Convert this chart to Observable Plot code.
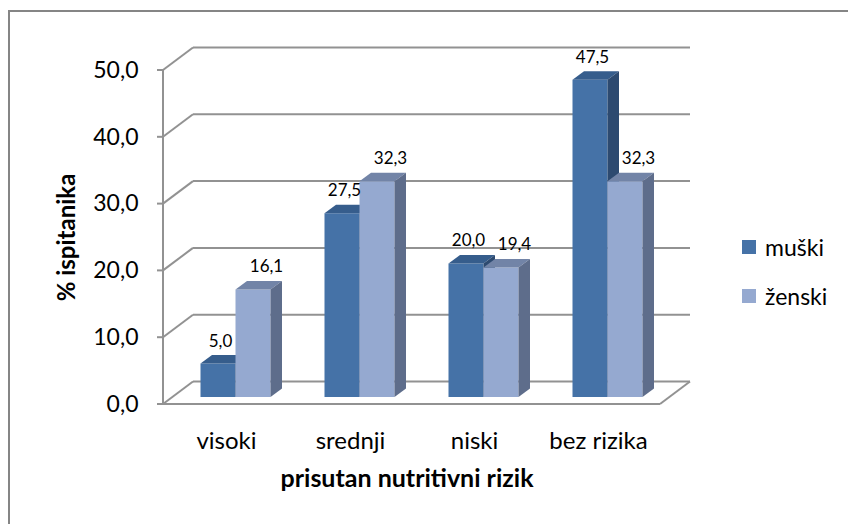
<!DOCTYPE html>
<html><head><meta charset="utf-8">
<script src="https://cdn.jsdelivr.net/npm/d3@7"></script>
<script src="https://cdn.jsdelivr.net/npm/@observablehq/plot@0.6"></script>
<style>
html,body{margin:0;padding:0;background:#fff;overflow:hidden;}
#wrap{position:relative;width:848px;height:524px;font-family:Lato,sans-serif;overflow:hidden;}
#border{position:absolute;left:8px;top:10px;width:900px;height:600px;border:2px solid #858585;box-sizing:border-box;}
#chart{position:absolute;left:0;top:0;}
#legend{position:absolute;left:742px;top:222.5px;}
.item{display:flex;align-items:center;height:49px;font-size:23px;color:#000;}
.sw{width:14px;height:14px;margin-right:9px;}
</style>
</head><body>
<div id="wrap"><div id="border"></div><div id="chart"></div><div id="legend"></div></div>
<script>
const categories = ["visoki", "srednji", "niski", "bez rizika"];
const series = ["muški", "ženski"];
const muski = [5.0, 27.5, 20.0, 47.5];
const zenski = [16.1, 32.3, 19.4, 32.3];
const yTicks = [0, 10, 20, 30, 40, 50];
const yTitle = "% ispitanika";
const xTitle = "prisutan nutritivni rizik";
const frontColors = ["#4572A7", "#95A9D0"];
const topColors = ["#365D8C", "#7284A7"];
const sideColors = ["#2D4A70", "#5E6D8B"];

const fmt = d => d.toFixed(1).replace(".", ",");
const rows = categories.flatMap((c, i) => [
  {category: c, sex: series[0], si: 0, value: muski[i]},
  {category: c, sex: series[1], si: 1, value: zenski[i]}
]);

// 3D offsets (pixels)
const WALL = [30, -22.5];   // back wall offset from front plane
const BAR = [9.5, -7];      // bar front plane offset
const DEPTH = [11.5, -8.5]; // bar depth
const GRID = "#929292";

function geometry(index, scales, values, dimensions) {
  const x = scales.x, y = scales.y;
  const bw = x.bandwidth ? x.bandwidth() : 70;
  const x0 = dimensions.marginLeft, x1 = dimensions.width - dimensions.marginRight;
  const g = d3.create("svg:g");
  const line = (ax, ay, bx, by) => g.append("line").attr("x1", ax).attr("y1", ay).attr("x2", bx).attr("y2", by)
    .attr("stroke", GRID).attr("stroke-width", 2);
  const top = y(d3.max(yTicks));
  for (const t of yTicks) {
    const ty = y(t);
    line(x0 + WALL[0], ty + WALL[1], x1 + WALL[0], ty + WALL[1]);
    line(x0, ty, x0 + WALL[0], ty + WALL[1]);
    line(x0 - 6, ty, x0, ty);
  }
  line(x0, y(0), x0, top);
  line(x0, y(0), x1, y(0));
  line(x1, y(0), x1 + WALL[0], y(0) + WALL[1]);
  const w = bw / 2;
  for (const d of rows) {
    const xs = x(d.category) + BAR[0] + d.si * w;
    const yt = y(d.value) + BAR[1];
    const yb = y(0) + BAR[1];
    const poly = (pts, fill) => g.append("polygon").attr("points", pts.map(p => p.join(",")).join(" ")).attr("fill", fill);
    poly([[xs, yt], [xs + w, yt], [xs + w, yb], [xs, yb]], frontColors[d.si]);
    poly([[xs, yt], [xs + DEPTH[0], yt + DEPTH[1]], [xs + w + DEPTH[0], yt + DEPTH[1]], [xs + w, yt]], topColors[d.si]);
    poly([[xs + w, yt], [xs + w + DEPTH[0], yt + DEPTH[1]], [xs + w + DEPTH[0], yb + DEPTH[1]], [xs + w, yb]], sideColors[d.si]);
  }
  return g.node();
}

const plot = Plot.plot({
  width: 848, height: 524,
  marginLeft: 163, marginRight: 188, marginTop: 70, marginBottom: 120,
  style: {fontFamily: "Lato, sans-serif", color: "#000", background: "transparent", overflow: "visible"},
  x: {type: "band", domain: categories, paddingInner: 0.437, paddingOuter: 0.2185},
  y: {domain: [0, 50]},
  marks: [
    geometry,
    Plot.axisY({ticks: yTicks, tickFormat: fmt, tickSize: 0, tickPadding: 25, fontSize: 23, label: null, fill: "#000"}),
    Plot.axisX({tickSize: 0, tickPadding: 27, fontSize: 24, label: null, fill: "#000"}),
    Plot.text(rows.filter(d => d.si === 0), {x: "category", y: "value", text: d => fmt(d.value), dx: -6, dy: -30, fontSize: 17, fill: "#000"}),
    Plot.text(rows.filter(d => d.si === 1), {x: "category", y: "value", text: d => fmt(d.value), dx: 40, dy: -30, fontSize: 17, fill: "#000"}),
    Plot.text([xTitle], {text: d => d, frameAnchor: "bottom", textAnchor: "middle", lineAnchor: "middle", dx: -5, dy: 74, fontSize: 25, fontWeight: "bold", fill: "#000"}),
    Plot.text([yTitle], {text: d => d, frameAnchor: "left", textAnchor: "middle", lineAnchor: "middle", dx: -96, rotate: -90, fontSize: 24, fontWeight: "bold", fill: "#000"})
  ]
});
document.getElementById("chart").appendChild(plot);

const legend = document.getElementById("legend");
series.forEach((s, i) => {
  const item = document.createElement("div");
  item.className = "item";
  const sw = document.createElement("div");
  sw.className = "sw";
  sw.style.background = frontColors[i];
  const tx = document.createElement("span");
  tx.textContent = s;
  item.appendChild(sw); item.appendChild(tx);
  legend.appendChild(item);
});
</script>
</body></html>
